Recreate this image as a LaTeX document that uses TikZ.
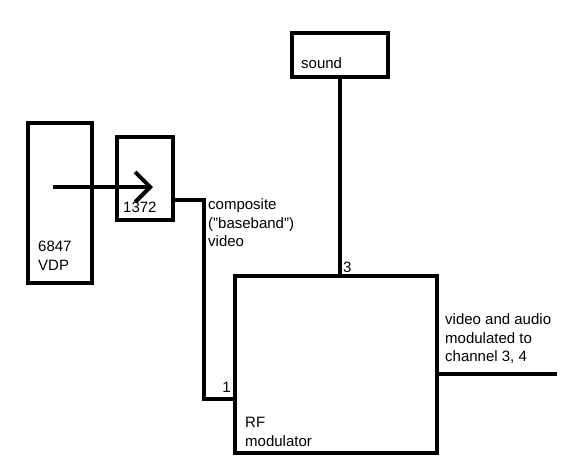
\documentclass[tikz,border=0pt]{standalone}
\usepackage{fontspec}
\setmainfont{Liberation Sans}
\usetikzlibrary{arrows.meta, positioning}

\tikzset{
    box/.style = {draw, line width=4pt, inner sep=0pt},
    wire/.style = {line width=4pt},
    tag/.style = {inner sep=0pt, align=left, font=\fontsize{15}{18.5}\selectfont}
}

\begin{document}
\begin{tikzpicture}[x=1pt, y=-1pt]
            \useasboundingbox (0,0) rectangle (561,472);

            % blocks
            \node[box, minimum width=64pt, minimum height=160pt] (vdp) at (60,203) {};
            \node[box, minimum width=56pt, minimum height=83pt] (chip) at (145,178.5) {};
            \node[box, minimum width=96pt, minimum height=44pt] (sound) at (340,55) {};
            \node[box, minimum width=202pt, minimum height=177pt] (rfmod) at (336,364.5) {};

            % texts inside the blocks
            \node[tag, anchor=west] (vdptext) at (38,256) {6847\\VDP};
            \node[tag, anchor=west] (chiptext) at (123,207) {1372};
            \node[tag, anchor=west] (soundtext) at (301,63) {sound};
            \node[tag, anchor=west] (rftext) at (245,432) {RF\\modulator};

            % wires
            \coordinate (arrowstart) at (53,187);
            \coordinate (arrowtip) at (153,187);
            \draw[wire, -{Straight Barb[length=15pt, width=30pt]}] (arrowstart) -- (arrowtip);

            \draw[wire] ([yshift=22pt]chip.south east) -- ++(29,0) |- ([yshift=56pt]rfmod.south west);
            \draw[wire] (sound.south) -- (sound.south |- rfmod.north);

            \coordinate (out) at (557,374);
            \draw[wire] (rfmod.east |- out) -- (out);

            % wire labels
            \node[tag, anchor=west] (videotext) at (208,223) {composite\\(\symbol{34}baseband\symbol{34})\\video};
            \node[tag, anchor=west] (pinthree) at (343,267) {3};
            \node[tag, anchor=east] (pinone) at (231,387) {1};
            \node[tag, anchor=west] (outtext) at (445,339) {video and audio\\modulated to\\channel 3, 4};
\end{tikzpicture}
\end{document}
